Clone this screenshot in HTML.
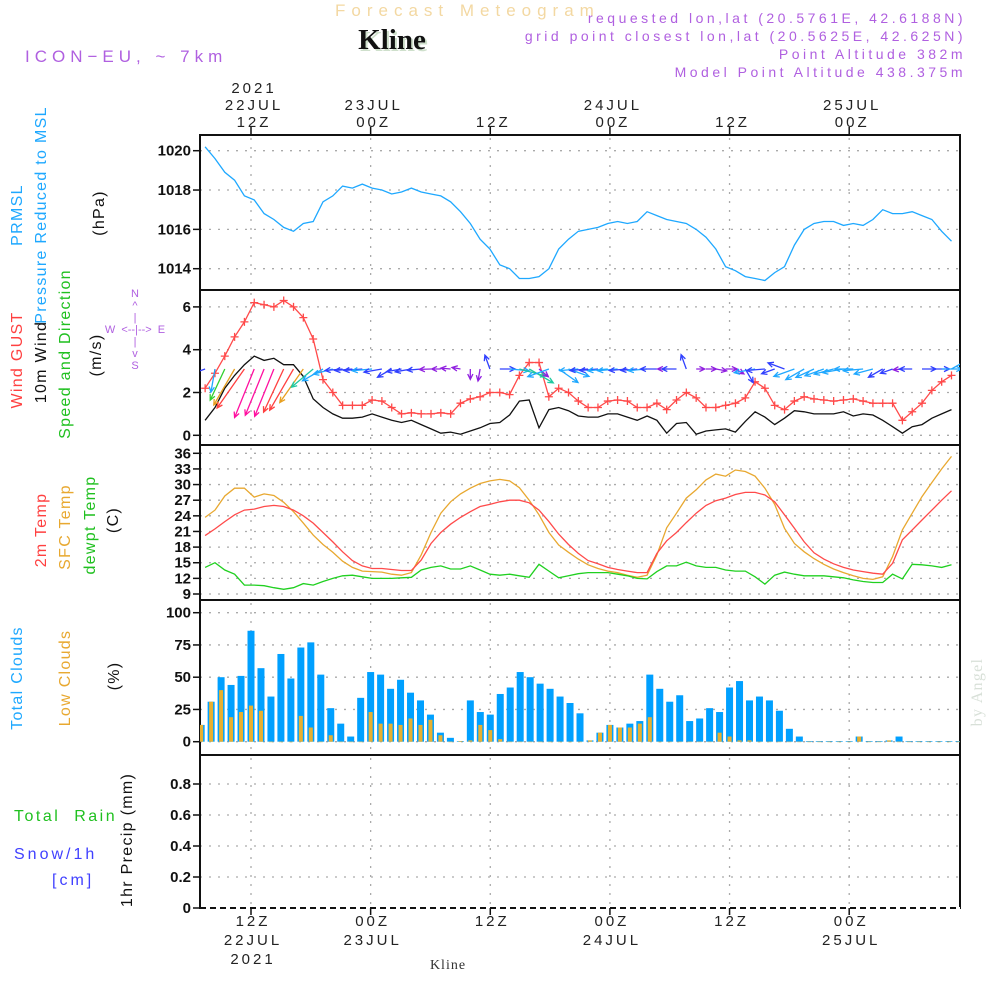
<!DOCTYPE html>
<html><head><meta charset="utf-8"><style>
html,body{margin:0;padding:0;background:#fff;}
svg{display:block;font-family:"Liberation Sans",sans-serif;}
.t{font-size:15px;fill:#222;}
.tk{font-size:15px;fill:#111;font-weight:bold;}
.rl{position:absolute;transform:translate(-50%,-50%) rotate(-90deg);font-size:16px;white-space:nowrap;letter-spacing:1.3px;}
</style></head><body>
<svg id="chart" width="1000" height="1000" viewBox="0 0 1000 1000" xmlns="http://www.w3.org/2000/svg">
<defs><clipPath id="plotclip"><rect x="200" y="135" width="760" height="773"/></clipPath></defs>
<text x="335" y="16" font-size="17" fill="#f3d8a2" letter-spacing="6">Forecast Meteogram</text>
<text x="394" y="51" text-anchor="middle" font-size="29" font-weight="bold" font-family="Liberation Serif,serif" fill="#cfe0cc">Kline</text>
<text x="392" y="49" text-anchor="middle" font-size="29" font-weight="bold" font-family="Liberation Serif,serif" fill="#111">Kline</text>
<text x="25" y="62" font-size="17" fill="#b060e0" letter-spacing="5">ICON−EU, ~ 7km</text>
<g font-size="14" fill="#b060e0" text-anchor="end" letter-spacing="3.5">
<text x="966" y="23">requested lon,lat (20.5761E, 42.6188N)</text>
<text x="966" y="41">grid point closest lon,lat (20.5625E, 42.625N)</text>
<text x="966" y="59">Point Altitude 382m</text>
<text x="966" y="77">Model Point Altitude 438.375m</text>
</g>
<g id="axes"></g>
<g id="marks" clip-path="url(#plotclip)"></g>
<g id="labels"></g>
</svg>
<script>
const pressure=[1020.2,1019.6,1018.9,1018.5,1017.7,1017.5,1016.8,1016.5,1016.1,1015.9,1016.3,1016.4,1017.4,1017.7,1018.2,1018.1,1018.3,1018.1,1018.0,1017.8,1017.9,1018.1,1017.9,1017.8,1017.7,1017.4,1016.9,1016.3,1015.5,1015.0,1014.2,1014.0,1013.5,1013.5,1013.6,1014.0,1015.0,1015.5,1015.9,1016.0,1016.1,1016.3,1016.4,1016.3,1016.4,1016.9,1016.7,1016.5,1016.4,1016.3,1016.0,1015.6,1015.0,1014.1,1013.9,1013.6,1013.5,1013.4,1013.8,1014.1,1015.2,1016.0,1016.3,1016.4,1016.4,1016.2,1016.3,1016.2,1016.5,1017.0,1016.8,1016.8,1016.9,1016.7,1016.5,1015.9,1015.4];
const gust=[2.2,2.9,3.7,4.6,5.3,6.2,6.1,6.0,6.3,6.0,5.5,4.5,2.6,2.0,1.4,1.4,1.4,1.65,1.6,1.3,1.0,1.05,1.0,1.0,1.05,1.0,1.5,1.7,1.8,2.0,2.0,1.9,2.8,3.4,3.4,1.8,2.2,2.0,1.6,1.3,1.3,1.6,1.65,1.6,1.3,1.3,1.5,1.2,1.65,2.0,1.75,1.3,1.3,1.4,1.5,1.75,2.5,2.2,1.4,1.2,1.6,1.8,1.7,1.65,1.6,1.65,1.7,1.6,1.5,1.5,1.5,0.7,1.1,1.5,2.1,2.5,2.8];
const wind10m=[0.7,1.3,2.2,2.8,3.3,3.7,3.5,3.6,3.3,3.3,2.75,1.7,1.3,1.0,0.8,0.8,0.85,1.0,0.85,0.7,0.6,0.7,0.5,0.3,0.1,0.15,0.05,0.2,0.35,0.55,0.6,0.95,1.6,1.65,0.35,1.2,1.3,1.15,0.9,0.85,0.85,1.0,1.0,0.85,0.7,0.9,0.7,0.1,0.55,0.6,0.05,0.2,0.25,0.3,0.15,0.65,1.1,0.85,0.5,0.8,1.15,1.1,1.0,1.0,1.0,1.1,0.9,1.0,0.95,0.7,0.4,0.1,0.4,0.5,0.8,1.0,1.2];
const windDir=[160,100,115,120,125,112,112,112,115,120,125,140,150,165,175,175,175,175,170,150,170,170,175,178,180,185,190,90,100,250,0,5,15,30,40,160,35,20,175,175,175,175,175,175,175,175,180,180,180,250,0,0,10,0,30,60,170,175,160,200,160,150,155,160,165,170,180,175,165,150,160,175,180,0,0,0,330];
const temp2m=[20.2,21.5,22.9,24.2,25.1,25.3,25.8,26.0,25.8,25.1,24.0,22.6,20.8,19.0,17.1,15.4,14.4,13.9,13.9,13.7,13.5,13.5,15.5,18.7,20.8,22.4,23.7,24.8,25.8,26.2,26.7,27.0,27.0,26.5,25.1,22.9,20.5,18.5,16.8,15.4,14.8,14.1,13.7,13.4,13.1,13.1,16.8,19.2,20.8,22.7,24.5,26.0,26.9,27.4,28.1,28.5,28.5,28.0,26.7,24.2,21.6,19.0,16.9,15.7,14.8,14.1,13.6,13.3,13.0,12.8,14.9,19.4,21.3,23.2,25.1,27.0,28.8];
const tempSfc=[23.7,25.1,27.8,29.3,29.3,27.6,28.2,27.9,26.6,24.8,22.6,20.3,18.5,17.0,15.3,14.1,13.4,13.3,13.2,12.8,12.6,13.1,16.5,20.8,24.5,26.7,28.2,29.3,30.2,30.7,31.0,30.7,29.4,27.0,24.2,20.8,18.4,17.0,15.7,14.6,13.9,13.4,13.1,12.6,12.2,12.6,16.5,21.7,24.5,27.4,29.0,30.9,32.0,31.6,32.8,32.5,31.6,29.3,26.2,21.6,18.7,17.1,15.8,14.7,13.8,13.1,12.5,12.0,11.8,12.3,16.2,21.3,24.5,27.7,30.4,33.0,35.4];
const dewpt=[14.1,15.0,13.6,12.8,10.7,10.7,10.6,10.2,9.9,10.2,11.0,10.7,11.4,12.0,12.5,12.6,12.3,12.0,12.0,12.0,12.1,12.2,13.6,14.1,14.4,13.8,13.8,14.4,13.6,12.8,12.6,12.8,12.5,12.2,14.7,13.4,12.1,12.5,12.9,13.1,13.1,13.1,12.8,12.5,12.0,11.9,13.3,14.4,14.4,15.1,14.4,14.1,14.1,13.6,13.4,13.4,12.3,10.9,12.6,13.2,12.8,12.5,12.5,12.5,12.3,12.1,11.7,11.4,11.2,11.2,12.8,11.9,14.7,14.6,14.4,14.1,14.6];
const totalClouds=[13,31,50,44,51,86,57,35,68,49,73,77,52,26,14,4,34,54,52,41,48,38,32,21,7,3,0.5,32,23,21,37,42,54,50,45,41,35,30,22,1,7,13,11,14,16,52,41,31,36,16,18,26,23,42,47,32,35,32,24,10,4,0.5,0.5,0.5,0.5,0.5,4,0.5,0.5,1,4,0.5,0.5,0.5,0.5,0.5,0.5];
const lowClouds=[13,31,40,19,23,28,24,0,0,0,20,11,0,5,0,0,0,23,14,14,13,18,13,17,5,0,0.5,1,13,9,2,0,0,0,0,0,0,0,0,1,7,13,11,11,14,19,0,0,0,0,0,0,7,4,1,1,0,0,0,0,0,0,0,0,0,0,4,0,0,1,0,0,0,0,0,0,0];
const pTicks=[1014,1016,1018,1020];
const wTicks=[0,2,4,6];
const tTicks=[9,12,15,18,21,24,27,30,33,36];
const cTicks=[0,25,50,75,100];
const rTicks=[0,0.2,0.4,0.6,0.8];
const timeTicks=[0,12,24,36,48,60];
const topLabels=[["2021","22JUL","12Z"],["","23JUL","00Z"],["","","12Z"],["","24JUL","00Z"],["","","12Z"],["","25JUL","00Z"]];
const botLabels=[["12Z","22JUL","2021"],["00Z","23JUL",""],["12Z","",""],["00Z","24JUL",""],["12Z","",""],["00Z","25JUL",""]];

const NS="http://www.w3.org/2000/svg";
const X0=200,X1=960;
function x(h){return 251+9.97*h;}
const LINE_T0=-4.6, LINE_DT=0.985, BAR_T0=-5;
function lineH(i){return LINE_T0+i*LINE_DT;}
function lin(d0,d1,r0,r1){return v=>r0+(v-d0)*(r1-r0)/(d1-d0);}
const yP=lin(1014,1020,268.7,150.7);
const yW=lin(0,6,435.3,306.9);
const yT=lin(9,36,594,453.3);
const yC=lin(0,100,741.7,612.7);
const yR=lin(0,1,908,753);
const panels=[{y0:135,y1:290},{y0:290,y1:445},{y0:445,y1:600},{y0:600,y1:755},{y0:755,y1:908}];
const axes=document.getElementById('axes'),marks=document.getElementById('marks'),labels=document.getElementById('labels');
function mk(tag,attrs,parent){const e=document.createElementNS(NS,tag);for(const k in attrs)e.setAttribute(k,attrs[k]);parent.appendChild(e);return e;}

function hgrid(ticks,sc,name,fmt){
  ticks.forEach(v=>{
    const y=sc(v);
    const g=mk('line',{x1:X0,x2:X1,y1:y,y2:y,stroke:'#aaa','stroke-width':1.3,'stroke-dasharray':'2,7'},axes);
    
    
    mk('line',{x1:193,x2:X0,y1:y,y2:y,stroke:'#111','stroke-width':1.5},axes);
    const t=mk('text',{x:191,y:y+5,'text-anchor':'end',class:'tk'},axes);
    t.textContent=fmt(v);
    
    
  });
}
hgrid(pTicks,yP,'pressure',v=>v);
hgrid(wTicks,yW,'wind',v=>v);
hgrid(tTicks,yT,'temp',v=>v);
hgrid(cTicks,yC,'cloud',v=>v);
hgrid(rTicks,yR,'precip',v=>v);
panels.forEach(p=>{timeTicks.forEach(h=>{
  const g=mk('line',{x1:x(h),x2:x(h),y1:p.y0+3,y2:p.y1-3,stroke:'#aaa','stroke-width':1.3,'stroke-dasharray':'2,7'},axes);
  
  
});});
panels.forEach((p,i)=>{
  const r=mk('rect',{x:X0,y:p.y0,width:X1-X0,height:p.y1-p.y0,fill:'none',stroke:'#111','stroke-width':2},axes);
  
  
});
mk('line',{x1:X0,x2:X1,y1:908,y2:908,stroke:'#fff','stroke-width':2},axes);
mk('line',{x1:X0,x2:X1,y1:908,y2:908,stroke:'#111','stroke-width':2,'stroke-dasharray':'6,4'},axes);
timeTicks.forEach((h,i)=>{
  mk('line',{x1:x(h),x2:x(h),y1:127,y2:135,stroke:'#111','stroke-width':1.5},axes);
  mk('line',{x1:x(h),x2:x(h),y1:908,y2:915,stroke:'#111','stroke-width':1.5},axes);
  topLabels[i].forEach((s,k)=>{ if(!s)return;
    const t=mk('text',{x:x(h)+3,y:93+17*k,'text-anchor':'middle',class:'t','font-size':16,'letter-spacing':3},labels);
    t.textContent=s;
    
    
  });
  botLabels[i].forEach((s,k)=>{ if(!s)return;
    const t=mk('text',{x:x(h)+2,y:926+19*k,'text-anchor':'middle',class:'t','font-size':16,'letter-spacing':3},labels);
    t.textContent=s;
    
    
  });
});

function series(arr,sc,color,name,w){
  const pts=arr.map((v,i)=>x(lineH(i)).toFixed(1)+','+sc(v).toFixed(1)).join(' ');
  const l=mk('polyline',{points:pts,fill:'none',stroke:color,'stroke-width':w||1.3},marks);
  
  
}
series(pressure,yP,'#1ea8ff','pressure-line');
series(wind10m,yW,'#111','wind-10m-line');
series(gust,yW,'#ff4a4a','wind-gust-line');
gust.forEach((v,i)=>{
  const cx=x(lineH(i)),cy=yW(v);
  const m=mk('path',{d:`M${cx-4},${cy}H${cx+4}M${cx},${cy-4}V${cy+4}`,stroke:'#ff4a4a','stroke-width':1.3},marks);
  
  
});
function spdColor(s){return s<0.4?'#9020e0':s<0.9?'#3040ff':s<1.4?'#20a8ff':s<2?'#20c8a0':s<2.5?'#30d030':s<3?'#e8a020':s<3.4?'#ff4040':'#ff10a0';}
windDir.forEach((d,i)=>{
  const s=wind10m[i];
  const len=8+12*s;
  const ax=x(lineH(i)),ay=yW(3.1);
  const a=d*Math.PI/180;
  const ex=ax+len*Math.cos(a),ey=ay+len*Math.sin(a);
  const h1=a+Math.PI-0.45,h2=a+Math.PI+0.45;
  const c=spdColor(s);
  const p=mk('path',{d:`M${ax.toFixed(1)},${ay.toFixed(1)}L${ex.toFixed(1)},${ey.toFixed(1)}M${(ex+6*Math.cos(h1)).toFixed(1)},${(ey+6*Math.sin(h1)).toFixed(1)}L${ex.toFixed(1)},${ey.toFixed(1)}L${(ex+6*Math.cos(h2)).toFixed(1)},${(ey+6*Math.sin(h2)).toFixed(1)}`,stroke:c,'stroke-width':1.3,fill:'none'},marks);
  
  
});
series(tempSfc,yT,'#e8a830','sfc-temp-line');
series(temp2m,yT,'#ff4a4a','2m-temp-line');
series(dewpt,yT,'#20d020','dewpoint-line');
totalClouds.forEach((v,i)=>{
  const cx=x(BAR_T0+i);
  const b=mk('rect',{x:cx-3.5,y:yC(v),width:7,height:Math.max(0.5,yC(0)-yC(v)),fill:'#00a0ff'},marks);
  
  
});
lowClouds.forEach((v,i)=>{
  const cx=x(BAR_T0+i);
  const b=mk('rect',{x:cx-2,y:yC(v),width:4,height:Math.max(0.5,yC(0)-yC(v)),fill:'#e8b030'},marks);
  
  
});
</script>
<div style="position:absolute;left:0;top:0;width:1000px;height:1000px;pointer-events:none;font-family:'Liberation Sans',sans-serif;">
<div class="rl" style="left:18px;top:215px;color:#1ea8ff;">PRMSL</div>
<div class="rl" style="left:42px;top:215px;color:#1ea8ff;">Pressure Reduced to MSL</div>
<div class="rl" style="left:100px;top:213px;color:#111;">(hPa)</div>
<div class="rl" style="left:18px;top:360px;color:#ff4040;">Wind GUST</div>
<div class="rl" style="left:42px;top:362px;color:#111;">10m Wind</div>
<div class="rl" style="left:66px;top:354px;color:#20c020;">Speed and Direction</div>
<div class="rl" style="left:97px;top:355px;color:#111;">(m/s)</div>
<div style="position:absolute;left:90px;top:288px;width:90px;color:#b060e0;font-size:11px;line-height:12px;text-align:center;white-space:pre;">N
^
|
W  &lt;--|--&gt;  E
|
v
S</div>
<div class="rl" style="left:42px;top:530px;color:#ff4040;">2m Temp</div>
<div class="rl" style="left:66px;top:527px;color:#e8a830;">SFC Temp</div>
<div class="rl" style="left:91px;top:525px;color:#20c020;">dewpt Temp</div>
<div class="rl" style="left:114px;top:520px;color:#111;">(C)</div>
<div class="rl" style="left:18px;top:678px;color:#1ea8ff;">Total Clouds</div>
<div class="rl" style="left:66px;top:678px;color:#e8a830;">Low Clouds</div>
<div class="rl" style="left:115px;top:676px;color:#111;">(%)</div>
<div style="position:absolute;left:14px;top:808px;color:#20c020;font-size:16px;white-space:pre;letter-spacing:2.5px;">Total  Rain</div>
<div style="position:absolute;left:14px;top:846px;color:#4040ff;font-size:16px;letter-spacing:3px;">Snow/1h</div>
<div style="position:absolute;left:52px;top:872px;color:#4040ff;font-size:16px;letter-spacing:3px;">[cm]</div>
<div class="rl" style="left:128px;top:840px;color:#111;">1hr Precip (mm)</div>
<div class="rl" style="left:978px;top:692px;color:#d8e0d8;font-family:'Liberation Serif',serif;">by Angel</div>
<div style="position:absolute;left:448px;top:958px;transform:translateX(-50%);color:#333;font-size:14px;font-family:'Liberation Serif',serif;letter-spacing:1px;">Kline</div>
</div>
</body></html>
